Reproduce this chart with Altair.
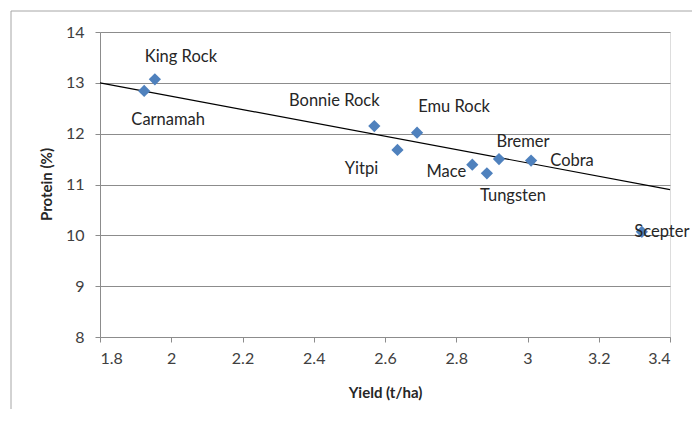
import altair as alt
import pandas as pd

# Data
varieties = ["Carnamah", "King Rock", "Bonnie Rock", "Yitpi", "Emu Rock",
             "Mace", "Tungsten", "Bremer", "Cobra", "Scepter"]
yield_t_ha = [1.924, 1.954, 2.570, 2.635, 2.690, 2.845, 2.886, 2.920, 3.010, 3.321]
protein_pct = [12.84, 13.07, 12.15, 11.68, 12.02, 11.39, 11.22, 11.50, 11.47, 10.07]

trend_x = [1.8, 3.4]
trend_y = [13.0, 10.9]

x_ticks = [1.8, 2.0, 2.2, 2.4, 2.6, 2.8, 3.0, 3.2, 3.4]
y_ticks = [8, 9, 10, 11, 12, 13, 14]

# Label offsets in pixels (styling)
label_offsets = {
    "Carnamah": (24, 29), "King Rock": (26, -22), "Bonnie Rock": (-40, -25),
    "Yitpi": (-36, 19), "Emu Rock": (37, -26), "Mace": (-26, 7),
    "Tungsten": (26, 23), "Bremer": (24, -17), "Cobra": (41, 0), "Scepter": (20, 0),
}

df = pd.DataFrame({"variety": varieties, "yield": yield_t_ha, "protein": protein_pct})
trend = pd.DataFrame({"yield": trend_x, "protein": trend_y})

FONT = "Lato"
W, H = 570, 305

xscale = alt.Scale(domain=[1.8, 3.4], nice=False, zero=False)
yscale = alt.Scale(domain=[8, 14], nice=False, zero=False)

xaxis = alt.Axis(values=x_ticks, format="~g", grid=False, title="Yield (t/ha)",
                 domainColor="#8c8c8c", tickColor="#8c8c8c", tickSize=5,
                 labelPadding=8, labelFontSize=16, labelColor="#404040", labelFont=FONT,
                 titleFont=FONT, titleFontSize=15, titleFontWeight="bold", titleColor="#262626",
                 titleX=285, titleY=55, titleBaseline="middle")
yaxis = alt.Axis(values=y_ticks, grid=True, gridColor="#8c8c8c", title="Protein (%)",
                 domainColor="#8c8c8c", tickColor="#8c8c8c", tickSize=5,
                 labelPadding=11, labelFontSize=16, labelColor="#404040", labelFont=FONT,
                 titleFont=FONT, titleFontSize=15, titleFontWeight="bold", titleColor="#262626",
                 titleX=-54, titleY=152, titleAngle=-90, titleBaseline="middle", titleAlign="center")

base = alt.Chart(df)

line = alt.Chart(trend).mark_line(color="#000000", strokeWidth=1.2).encode(
    x=alt.X("yield:Q", scale=xscale, axis=xaxis),
    y=alt.Y("protein:Q", scale=yscale, axis=yaxis),
)

points = base.mark_point(shape="diamond", filled=True, size=150, color="#4F81BD", opacity=1).encode(
    x=alt.X("yield:Q", scale=xscale),
    y=alt.Y("protein:Q", scale=yscale),
)

labels = []
for name in varieties:
    dx, dy = label_offsets[name]
    labels.append(
        base.transform_filter(alt.datum.variety == name)
        .mark_text(font=FONT, fontSize=16.5, color="#262626", dx=dx, dy=dy)
        .encode(x=alt.X("yield:Q", scale=xscale), y=alt.Y("protein:Q", scale=yscale), text="variety:N")
    )

frame_data = pd.DataFrame({"k": [0]})
frame_v = alt.Chart(frame_data).mark_rule(color="#a6a6a6", strokeWidth=1).encode(
    x=alt.value(-89), y=alt.value(-21), y2=alt.value(400))
frame_h = alt.Chart(frame_data).mark_rule(color="#a6a6a6", strokeWidth=1).encode(
    x=alt.value(-89), x2=alt.value(620), y=alt.value(-21))

chart = alt.layer(frame_v, frame_h, line, points, *labels).properties(
    width=W, height=H,
    padding={"left": 92, "top": 24, "right": 22, "bottom": 72},
    autosize=alt.AutoSizeParams(type="none"),
).configure_view(stroke=None).configure(background="white")

chart.save("out.html", embed_options={"renderer": "svg", "actions": False})
